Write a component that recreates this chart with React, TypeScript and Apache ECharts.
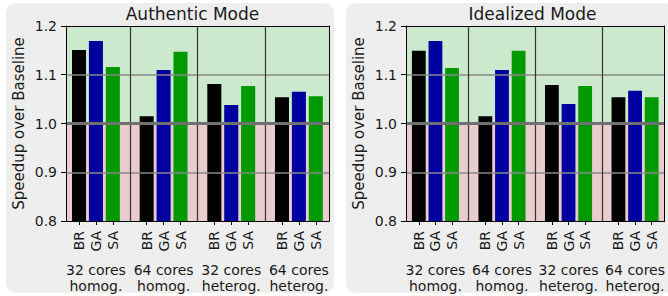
import React, { useEffect, useRef } from "react";
import * as echarts from "echarts";

const groups = ["32 cores\nhomog.", "64 cores\nhomog.", "32 cores\nheterog.", "64 cores\nheterog."];
const methods = ["BR", "GA", "SA"];
const panelTitles = ["Authentic Mode", "Idealized Mode"];

const authenticBR = [1.151, 1.015, 1.081, 1.054];
const authenticGA = [1.169, 1.11, 1.038, 1.065];
const authenticSA = [1.116, 1.147, 1.077, 1.056];

const idealizedBR = [1.149, 1.015, 1.079, 1.054];
const idealizedGA = [1.169, 1.11, 1.04, 1.067];
const idealizedSA = [1.114, 1.149, 1.077, 1.054];

const yTicks = [0.8, 0.9, 1.0, 1.1, 1.2];

const FONT = "'DejaVu Sans', sans-serif";
const TEXT = "#1a1a1a";
const methodColors = ["#000000", "#0000a0", "#009900"];
const GREEN = "#cde9cd";
const PINK = "#e9cccd";

export default function App() {
  const ref = useRef<HTMLDivElement>(null);
  useEffect(() => {
    if (!ref.current) return;
    const chart = echarts.init(ref.current, undefined, { renderer: "svg" });
    const panels = [
      [authenticBR, authenticGA, authenticSA],
      [idealizedBR, idealizedGA, idealizedSA],
    ];
    const slotOf = (g: number, m: number) => g * 4 + m;
    const tickPos: number[] = [];
    groups.forEach((_, g) => methods.forEach((__, m) => tickPos.push(slotOf(g, m))));
    const groupPos = groups.map((_, g) => slotOf(g, 1));
    const sepPos = [3, 7, 11];
    const xMin = -0.77;
    const xMax = 14.78;
    const plotLefts = [66, 406];
    const plotW = 263;
    const titleX = [192.5, 532.5];

    const grid: any[] = [];
    const xAxis: any[] = [];
    const yAxis: any[] = [];
    const series: any[] = [];

    panels.forEach((vals, p) => {
      grid.push({ left: plotLefts[p], top: 26, width: plotW, height: 195 });
      xAxis.push({
        type: "value", gridIndex: p, min: xMin, max: xMax, position: "bottom", z: 5,
        axisLine: { show: true, onZero: false, lineStyle: { color: "#000", width: 1 } },
        axisTick: { show: true, customValues: tickPos, length: 4, lineStyle: { color: "#000" } },
        axisLabel: {
          show: true, customValues: tickPos, rotate: 90, margin: 10, fontSize: 14,
          fontFamily: FONT, color: TEXT,
          formatter: (v: number) => methods[Math.round(v) % 4] ?? "",
        },
        splitLine: { show: false },
      });
      xAxis.push({
        type: "value", gridIndex: p, min: xMin, max: xMax, position: "bottom", offset: 36, z: 5,
        axisLine: { show: false }, axisTick: { show: false }, splitLine: { show: false },
        axisLabel: {
          show: true, customValues: groupPos, margin: 5, fontSize: 14, lineHeight: 16,
          fontFamily: FONT, color: TEXT, align: "center",
          formatter: (v: number) => groups[Math.round((v - 1) / 4)] ?? "",
        },
      });
      xAxis.push({
        type: "value", gridIndex: p, min: 0, max: 1, position: "top", z: 5,
        axisLine: { show: true, onZero: false, lineStyle: { color: "#000", width: 1 } },
        axisTick: { show: false }, axisLabel: { show: false }, splitLine: { show: false },
      });
      yAxis.push({
        type: "value", gridIndex: p, min: yTicks[0], max: yTicks[yTicks.length - 1], interval: 0.1, z: 5,
        position: "left",
        axisLine: { show: true, onZero: false, lineStyle: { color: "#000", width: 1 } },
        axisTick: { show: true, length: 5, lineStyle: { color: "#000" } },
        axisLabel: {
          show: true, margin: 9, fontSize: 14, fontFamily: FONT, color: TEXT,
          formatter: (v: number) => v.toFixed(1),
        },
        splitLine: { show: false },
        name: "Speedup over Baseline", nameLocation: "middle", nameGap: 40,
        nameTextStyle: { fontSize: 15, fontFamily: FONT, color: TEXT },
      });
      yAxis.push({
        type: "value", gridIndex: p, min: 0, max: 1, position: "right", z: 5,
        axisLine: { show: true, onZero: false, lineStyle: { color: "#000", width: 1 } },
        axisTick: { show: false }, axisLabel: { show: false }, splitLine: { show: false },
      });
      const xi = p * 3;
      const yi = p * 2;
      series.push({
        type: "line", xAxisIndex: xi, yAxisIndex: yi, data: [], z: 1, silent: true,
        markArea: {
          silent: true,
          data: [
            [{ yAxis: 1.0, itemStyle: { color: GREEN } }, { yAxis: 1.2 }],
            [{ yAxis: 0.8, itemStyle: { color: PINK } }, { yAxis: 1.0 }],
          ],
        },
        markLine: {
          silent: true, symbol: "none", label: { show: false },
          data: [
            { yAxis: 0.9, lineStyle: { color: "#888", width: 1.6, type: "solid" } },
            { yAxis: 1.1, lineStyle: { color: "#888", width: 1.6, type: "solid" } },
            ...sepPos.map((s) => ({ xAxis: s, lineStyle: { color: "#333", width: 1.2, type: "solid" } })),
            { yAxis: 1.0, lineStyle: { color: "#707070", width: 3, type: "solid" } },
          ],
        },
      });
      methods.forEach((m, mi) => {
        series.push({
          type: "custom", name: m, xAxisIndex: xi, yAxisIndex: yi, z: 3, clip: true,
          data: vals[mi].map((v, g) => [slotOf(g, mi), v]),
          renderItem: (params: any, api: any) => {
            const x = api.value(0);
            const y = api.value(1);
            const top = api.coord([x, y]);
            const base = api.coord([x, yTicks[0]]);
            const w = api.size([0.83, 0])[0];
            return {
              type: "rect",
              shape: { x: top[0] - w / 2, y: top[1], width: w, height: base[1] - top[1] },
              style: { fill: methodColors[mi] },
            };
          },
        });
      });
    });

    const graphic: any[] = [
      { type: "rect", z: -10, shape: { x: 6, y: 3, width: 328, height: 290, r: 10 }, style: { fill: "#eeeeee" } },
      { type: "rect", z: -10, shape: { x: 346, y: 3, width: 328, height: 290, r: 10 }, style: { fill: "#eeeeee" } },
      ...panelTitles.map((t, i) => ({
        type: "text", z: 10, x: titleX[i], y: 14,
        style: { text: t, fontSize: 17, fontFamily: FONT, fill: TEXT, align: "center", verticalAlign: "middle" },
      })),
    ];

    chart.setOption({
      animation: false,
      backgroundColor: "#ffffff",
      grid, xAxis, yAxis, series, graphic,
    });
    return () => chart.dispose();
  }, []);
  return (
    <div
      ref={ref}
      style={{ position: "fixed", left: 0, top: 0, width: 668, height: 296 }}
    />
  );
}
